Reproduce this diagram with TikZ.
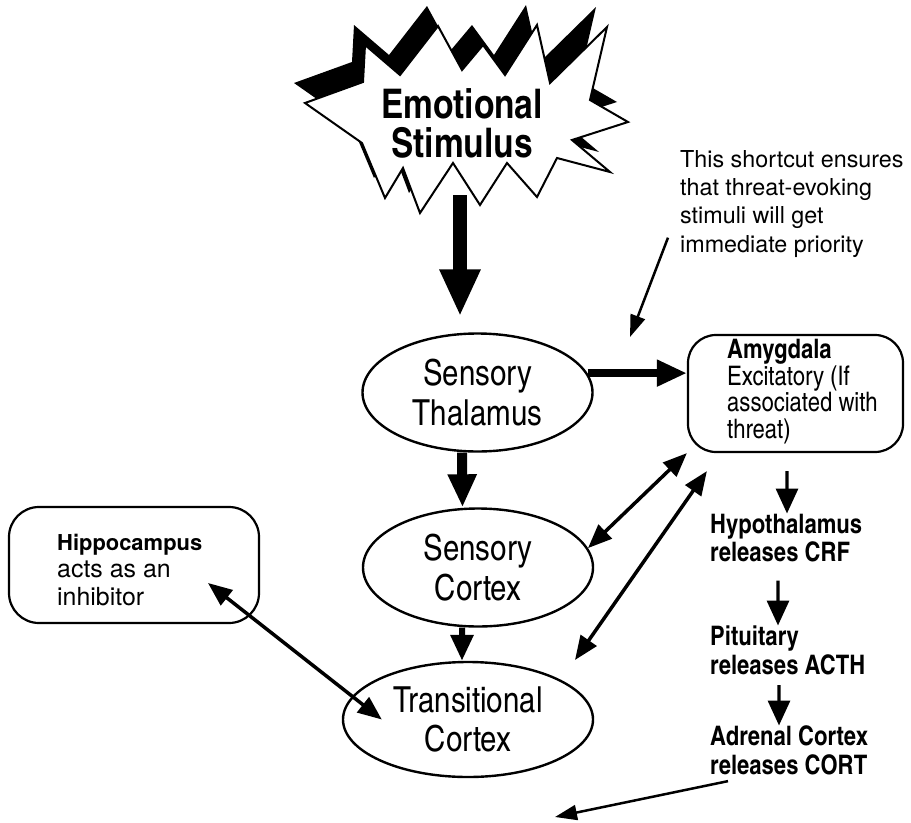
\documentclass[tikz,border=0pt]{standalone}
\usepackage{fontspec}
\setmainfont{TeX Gyre Heros}
\newfontfamily\condfont{TeX Gyre Heros Cn}
\usetikzlibrary{arrows.meta,shapes.geometric}
\tikzset{>=latex}
\tikzset{
  region/.style = {ellipse, draw, line width=2.4bp, inner sep=0pt,
    minimum width=230bp, minimum height=118bp, align=center,
    font=\condfont\fontsize{36}{40}\selectfont},
  panel/.style = {draw, line width=2.2bp, rounded corners=28bp},
  boxtext/.style = {anchor=north west, inner sep=0pt, align=left},
  hormone/.style = {boxtext, font=\condfont\bfseries\fontsize{27}{29}\selectfont},
  burst/.style = {insert path={(305,103) -- (363,82) -- (365,45) -- (400,75)
    -- (438,26) -- (462,70) -- (483,45) -- (505,75) -- (537,25) -- (550,83)
    -- (607,27) -- (590,100) -- (628,122) -- (572,140) -- (610,172)
    -- (557,158) -- (537,197) -- (507,163) -- (480,205) -- (453,163)
    -- (420,213) -- (403,168) -- (385,198) -- (362,143) -- cycle}},
  bigarrow/.style = {-{Triangle[width=38bp,length=47bp]}, line width=14bp},
  midarrow/.style = {-{Triangle[width=27bp,length=33bp]}, line width=10bp},
  sidearrow/.style = {-{Triangle[width=25bp,length=30bp]}, line width=8bp},
  smallarrow/.style = {-{Triangle[width=22bp,length=26bp]}, line width=6bp},
  link/.style = {{Triangle[width=19bp,length=24bp]}-{Triangle[width=19bp,length=24bp]}, line width=3.5bp},
  hormarrow/.style = {-{Triangle[width=22bp,length=25bp]}, line width=3.3bp},
  pointer/.style = {-{Triangle[width=15bp,length=22bp]}, line width=2.5bp}
}
\begin{document}
\begin{tikzpicture}[x=1bp, y=-1bp]
  \useasboundingbox (0,0) rectangle (911,823);
  % starburst with its shadow
  \fill[shift={(-11,-20)}, burst];
  \filldraw[fill=white, line width=2bp, line join=miter, burst];
  \node (stim) [align=center, inner sep=0pt,
    font=\condfont\bfseries\fontsize{41}{39}\selectfont] at (462,123) {Emotional\\Stimulus};
  % brain regions
  \node (thal) [region] at (477.5,392.5) {Sensory\\Thalamus};
  \node (scx) [region] at (478,567.5) {Sensory\\Cortex};
  \node (trans) [region, minimum width=250bp, minimum height=115bp] at (468,719.5) {Transitional\\Cortex};
  \node (amyg) [panel, minimum width=215bp, minimum height=117bp] at (795.5,393.5) {};
  \node (amygtext) [boxtext, font=\condfont\fontsize{27}{26.7}\selectfont] at (727,339)
    {\textbf{Amygdala}\\Excitatory (If\\associated with\\threat)};
  \node (hipp) [panel, minimum width=250bp, minimum height=116bp, rounded corners=30bp] at (134,565) {};
  \node (hipptext) [boxtext, font=\fontsize{25}{27.5}\selectfont] at (57,534)
    {{\bfseries\fontsize{22}{27.5}\selectfont Hippocampus}\\acts as an\\inhibitor};
  \node (note) [boxtext, font=\fontsize{23.4}{28.5}\selectfont] at (680,150)
    {This shortcut ensures\\that threat-evoking\\stimuli will get\\immediate priority};
  % hormone chain
  \node (hypo) [hormone] at (710,513.5) {Hypothalamus\\releases CRF};
  \node (pit) [hormone] at (710,625.5) {Pituitary\\releases ACTH};
  \node (adr) [hormone] at (710,725.5) {Adrenal Cortex\\releases CORT};
  \coordinate (burstfoot) at (460,195);
  \coordinate (shortcut) at (630,337);
  \coordinate (cortout) at (555,817);
  % connectors
  \draw[bigarrow, shorten >=16bp] (burstfoot) -- (burstfoot |- thal.north);
  \draw[midarrow] ([xshift=-15.5bp]thal.south) -- ([xshift=-15.5bp]scx.north);
  \draw[sidearrow] (thal.10) -- (thal.10 -| amyg.west);
  \draw[smallarrow] ([xshift=-16bp]scx.south) -- ([xshift=-6bp]trans.north);
  \draw[link] (scx.10) -- (amyg.south west);
  \draw[link] ([shift={(107,-59.5)}]trans.center) -- ([shift={(20,18)}]amyg.south west);
  \draw[link] ([shift={(74,18)}]hipp.center) -- ([xshift=40bp]trans.west);
  \draw[pointer] ([shift={(-12,-20)}]note.south west) -- (shortcut);
  \draw[hormarrow] ([shift={(-8.5,18)}]amyg.south) -- ([xshift=77bp]hypo.north west);
  \draw[hormarrow] ([shift={(68,18)}]hypo.south west) -- ([xshift=68bp]pit.north west);
  \draw[hormarrow] ([shift={(69,10)}]pit.south west) -- ([xshift=69bp]adr.north west);
  \draw[pointer] ([shift={(18,6)}]adr.south west) -- (cortout);
\end{tikzpicture}
\end{document}
